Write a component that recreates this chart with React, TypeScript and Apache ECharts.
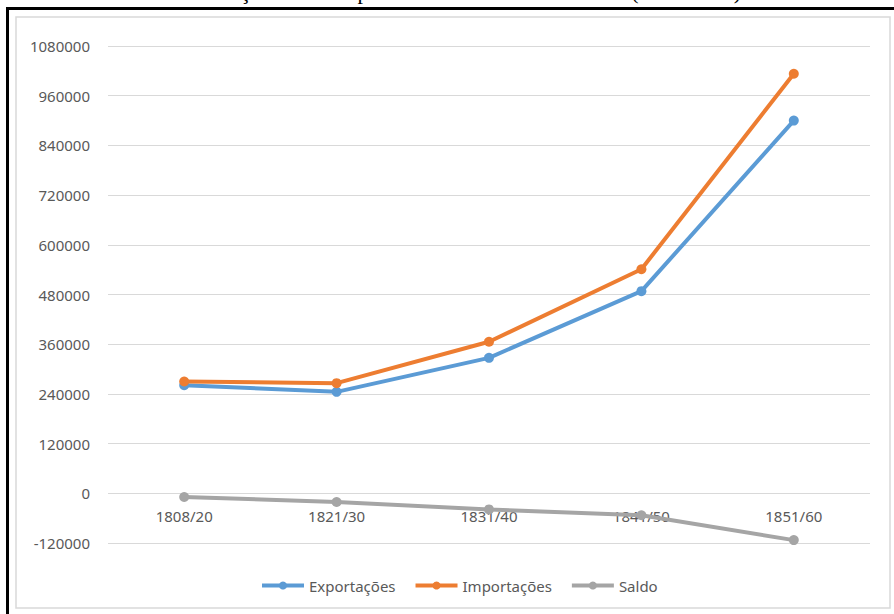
import React, { useEffect, useRef } from "react";
import * as echarts from "echarts";

// Trade balance by decade, in contos de réis
const periods = ["1808/20", "1821/30", "1831/40", "1841/50", "1851/60"];
const exportacoes = [261000, 245000, 327000, 488000, 900000];
const importacoes = [270000, 266000, 366000, 541000, 1013000];
const saldo = [-9000, -21000, -39000, -53000, -113000];

const yMin = -120000;
const yMax = 1080000;
const yStep = 120000;

const titleText = "Balança comercial por décadas em Contos de réis (1808-1860)";

const axisFont = "'Noto Sans', 'Open Sans', sans-serif";
const textGray = "#595959";
const gridGray = "#D9D9D9";

const gridTop = 46;
const gridBottom = 71;
const chartHeight = 614;

export default function App() {
  const ref = useRef<HTMLDivElement>(null);

  useEffect(() => {
    if (!ref.current) return;
    const chart = echarts.init(ref.current, undefined, { renderer: "svg" });

    // category axis sits on the zero line of the value axis
    const plotHeight = chartHeight - gridTop - gridBottom;
    const zeroOffset = -plotHeight * (0 - yMin) / (yMax - yMin);

    const lineSeries = (name: string, data: number[], color: string) => ({
      name,
      type: "line",
      data,
      color,
      symbol: "circle",
      symbolSize: 10,
      lineStyle: { width: 4, color },
      itemStyle: { color },
      z: 3,
    });

    chart.setOption({
      animation: false,
      backgroundColor: "#ffffff",
      textStyle: { fontFamily: axisFont },
      grid: { left: 108, right: 24, top: gridTop, bottom: gridBottom, containLabel: false },
      xAxis: {
        type: "category",
        data: periods,
        boundaryGap: true,
        offset: zeroOffset,
        axisLine: { show: false, onZero: false },
        axisTick: { show: false },
        axisLabel: { color: textGray, fontSize: 15, margin: 15, fontFamily: axisFont },
        z: 1,
      },
      yAxis: {
        type: "value",
        min: yMin,
        max: yMax,
        interval: yStep,
        axisLine: { show: false },
        axisTick: { show: false },
        axisLabel: {
          color: textGray,
          fontSize: 15,
          margin: 18,
          fontFamily: axisFont,
          formatter: (v: number) => String(v),
        },
        splitLine: { lineStyle: { color: gridGray, width: 1 } },
      },
      legend: {
        left: 255,
        top: 573,
        itemWidth: 42,
        itemHeight: 10,
        itemGap: 18,
        lineStyle: { width: 4 },
        textStyle: { color: textGray, fontSize: 15, fontFamily: axisFont },
        data: ["Exportações", "Importações", "Saldo"],
      },
      series: [
        lineSeries("Exportações", exportacoes, "#5B9BD5"),
        lineSeries("Importações", importacoes, "#ED7D31"),
        lineSeries("Saldo", saldo, "#A5A5A5"),
      ],
      graphic: [
        {
          type: "rect",
          shape: { x: 16, y: 17, width: 874, height: 591 },
          style: { fill: "none", stroke: gridGray, lineWidth: 1.5 },
          silent: true,
        },
        {
          type: "rect",
          shape: { x: 6, y: 7, width: 888, height: 3 },
          style: { fill: "#000000" },
          silent: true,
        },
        {
          type: "rect",
          shape: { x: 6, y: 7, width: 3, height: 607 },
          style: { fill: "#000000" },
          silent: true,
        },
        {
          type: "text",
          x: 465,
          y: -9,
          style: {
            text: titleText,
            fill: "#000000",
            font: "22px 'Liberation Serif', 'Times New Roman', serif",
            align: "center",
            verticalAlign: "middle",
          },
          silent: true,
        },
      ],
    });

    return () => chart.dispose();
  }, []);

  return (
    <div
      ref={ref}
      style={{ position: "fixed", left: 0, top: 0, width: 894, height: 614 }}
    />
  );
}
